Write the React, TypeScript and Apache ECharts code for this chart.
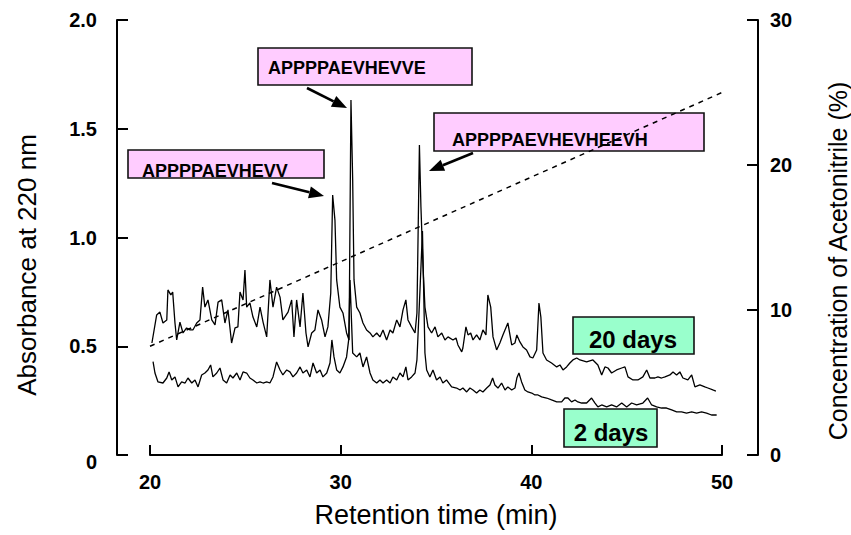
import React, { useEffect, useRef } from "react";
import * as echarts from "echarts";

const FONT = '"Liberation Sans", Arial, sans-serif';

// Retention time ticks (min)
const xTicks = [20, 30, 40, 50];

// 20 days chromatogram: retention time (min) and absorbance at 220 nm
const time20 = [
  20.1, 20.35, 20.52, 20.68, 20.88, 20.94, 21.09, 21.19, 21.31, 21.4, 21.57, 21.73, 21.92, 22.1, 22.25, 22.45,
  22.62, 22.76, 22.88, 23.04, 23.24, 23.41, 23.57, 23.76, 23.93, 24.09, 24.28, 24.46, 24.61, 24.72, 24.88, 24.98,
  25.07, 25.24, 25.4, 25.6, 25.77, 25.93, 26.12, 26.29, 26.45, 26.64, 26.82, 26.97, 27.24, 27.43, 27.55, 27.69,
  27.87, 28.02, 28.18, 28.29, 28.48, 28.65, 28.81, 29.0, 29.18, 29.33, 29.48, 29.58, 29.7, 29.79, 29.96, 30.12,
  30.31, 30.44, 30.54, 30.63, 30.7, 30.84, 31.01, 31.17, 31.36, 31.54, 31.69, 31.89, 32.06, 32.22, 32.41, 32.59,
  32.74, 32.94, 33.11, 33.27, 33.42, 33.53, 33.72, 33.9, 34.0, 34.13, 34.21, 34.32, 34.42, 34.58, 34.77, 34.95,
  35.1, 35.3, 35.47, 35.63, 35.89, 36.05, 36.15, 36.35, 36.41, 36.57, 36.68, 36.82, 36.94, 37.13, 37.3, 37.46,
  37.62, 37.72, 37.87, 37.99, 38.18, 38.35, 38.51, 38.77, 38.97, 39.14, 39.24, 39.4, 39.56, 39.75, 39.93, 40.08,
  40.28, 40.4, 40.5, 40.61, 40.8, 41.06, 41.33, 41.5, 41.66, 41.85, 42.02, 42.18, 42.38, 42.55, 42.9, 43.23,
  43.49, 43.69, 43.86, 44.02, 44.21, 44.47, 44.74, 44.91, 45.07, 45.33, 45.59, 45.85, 46.05, 46.22, 46.48, 46.64,
  46.83, 47.01, 47.27, 47.43, 47.62, 47.79, 47.95, 48.21, 48.41, 48.58, 48.84, 49.1, 49.26, 49.52, 49.68,
];
const abs20 = [
  0.515, 0.644, 0.657, 0.607, 0.621, 0.759, 0.736, 0.749, 0.607, 0.529, 0.611, 0.561, 0.584, 0.575, 0.575, 0.607,
  0.621, 0.772, 0.68, 0.713, 0.621, 0.598, 0.703, 0.713, 0.607, 0.667, 0.515, 0.584, 0.589, 0.749, 0.713, 0.85,
  0.68, 0.699, 0.634, 0.589, 0.68, 0.611, 0.543, 0.805, 0.68, 0.772, 0.726, 0.621, 0.657, 0.713, 0.543, 0.713,
  0.589, 0.745, 0.561, 0.497, 0.561, 0.575, 0.667, 0.621, 0.543, 0.589, 0.745, 1.195, 1.08, 0.805, 0.68, 0.653,
  0.561, 0.529, 1.632, 1.264, 0.805, 0.68, 0.653, 0.607, 0.575, 0.561, 0.543, 0.561, 0.543, 0.575, 0.529, 0.575,
  0.561, 0.621, 0.589, 0.667, 0.713, 0.621, 0.589, 0.561, 0.653, 1.425, 1.14, 0.864, 0.68, 0.589, 0.561, 0.589,
  0.543, 0.561, 0.529, 0.543, 0.529, 0.538, 0.506, 0.474, 0.492, 0.589, 0.552, 0.561, 0.529, 0.552, 0.529, 0.575,
  0.552, 0.736, 0.68, 0.543, 0.483, 0.515, 0.552, 0.607, 0.506, 0.515, 0.552, 0.52, 0.497, 0.483, 0.451, 0.446,
  0.483, 0.699, 0.634, 0.469, 0.437, 0.423, 0.405, 0.414, 0.391, 0.405, 0.423, 0.437, 0.446, 0.437, 0.428, 0.437,
  0.414, 0.368, 0.405, 0.4, 0.377, 0.391, 0.4, 0.405, 0.359, 0.345, 0.345, 0.359, 0.391, 0.354, 0.354, 0.359,
  0.354, 0.359, 0.368, 0.382, 0.368, 0.382, 0.354, 0.345, 0.368, 0.313, 0.322, 0.313, 0.308, 0.299, 0.294,
];

// 2 days chromatogram
const time2 = [
  20.16, 20.26, 20.42, 20.68, 20.88, 21.0, 21.14, 21.31, 21.47, 21.66, 21.84, 21.99, 22.19, 22.36, 22.52, 22.71,
  22.88, 23.04, 23.18, 23.3, 23.5, 23.67, 23.83, 24.02, 24.2, 24.35, 24.55, 24.72, 24.88, 25.07, 25.24, 25.4,
  25.6, 25.77, 25.93, 26.12, 26.29, 26.45, 26.64, 26.82, 26.97, 27.17, 27.34, 27.5, 27.69, 27.87, 28.02, 28.22,
  28.39, 28.55, 28.74, 28.92, 29.07, 29.27, 29.44, 29.54, 29.65, 29.79, 29.96, 30.12, 30.31, 30.42, 30.49, 30.63,
  30.84, 31.01, 31.17, 31.36, 31.54, 31.69, 31.89, 32.06, 32.22, 32.41, 32.59, 32.74, 32.94, 33.11, 33.27, 33.42,
  33.53, 33.72, 33.9, 34.0, 34.16, 34.29, 34.42, 34.51, 34.68, 34.84, 35.03, 35.21, 35.36, 35.55, 35.82, 36.08,
  36.26, 36.41, 36.61, 36.78, 36.94, 37.13, 37.3, 37.46, 37.66, 37.83, 37.97, 38.09, 38.25, 38.44, 38.62, 38.77,
  38.97, 39.14, 39.24, 39.35, 39.49, 39.66, 39.82, 40.02, 40.19, 40.35, 40.54, 40.8, 41.06, 41.33, 41.59, 41.76,
  41.92, 42.11, 42.29, 42.44, 42.64, 42.9, 43.16, 43.34, 43.49, 43.69, 43.95, 44.21, 44.47, 44.74, 45.0, 45.26,
  45.52, 45.85, 46.1, 46.31, 46.57, 46.83, 47.09, 47.36, 47.62, 47.88, 48.14, 48.41, 48.67, 48.93, 49.19, 49.45,
  49.72,
];
const abs2 = [
  0.429, 0.377, 0.336, 0.331, 0.354, 0.382, 0.345, 0.359, 0.313, 0.336, 0.331, 0.354, 0.331, 0.345, 0.313, 0.368,
  0.377, 0.391, 0.414, 0.359, 0.377, 0.4, 0.345, 0.331, 0.368, 0.354, 0.377, 0.345, 0.382, 0.377, 0.354, 0.345,
  0.331, 0.336, 0.331, 0.336, 0.331, 0.359, 0.428, 0.391, 0.368, 0.391, 0.382, 0.359, 0.377, 0.405, 0.377, 0.391,
  0.359, 0.423, 0.377, 0.391, 0.359, 0.377, 0.423, 0.529, 0.451, 0.391, 0.377, 0.405, 0.451, 0.529, 0.805, 0.469,
  0.451, 0.469, 0.405, 0.451, 0.377, 0.345, 0.331, 0.345, 0.331, 0.345, 0.331, 0.359, 0.345, 0.377, 0.359, 0.405,
  0.345, 0.359, 0.377, 0.437, 0.759, 1.03, 0.469, 0.391, 0.359, 0.391, 0.345, 0.359, 0.331, 0.345, 0.313, 0.308,
  0.299, 0.308, 0.29, 0.308, 0.299, 0.285, 0.299, 0.29, 0.308, 0.322, 0.354, 0.322, 0.308, 0.331, 0.299, 0.313,
  0.299, 0.308, 0.354, 0.377, 0.336, 0.299, 0.29, 0.285, 0.276, 0.276, 0.267, 0.262, 0.253, 0.244, 0.244, 0.262,
  0.262, 0.244, 0.253, 0.244, 0.239, 0.239, 0.262, 0.239, 0.221, 0.23, 0.221, 0.23, 0.221, 0.239, 0.221, 0.239,
  0.23, 0.239, 0.262, 0.23, 0.221, 0.216, 0.216, 0.207, 0.198, 0.198, 0.193, 0.198, 0.193, 0.198, 0.193, 0.184,
  0.184,
];

// Acetonitrile gradient (%)
const gradientTime = [20, 50];
const gradientAcn = [7.5, 25];

// Annotation texts
const peptideLabels = ["APPPPAEVHEVVE", "APPPPAEVHEVV", "APPPPAEVHEVHEEVH"];
const sampleLabels = ["20 days", "2 days"];

const PINK = "#ffccff";
const MINT = "#99ffcc";

function arrow(x1: number, y1: number, x2: number, y2: number) {
  const a = Math.atan2(y2 - y1, x2 - x1);
  const L = 15;
  const W = 6;
  const c = Math.cos(a);
  const s = Math.sin(a);
  const bx = x2 - L * c;
  const by = y2 - L * s;
  return [
    { type: "line", z: 10, shape: { x1, y1, x2: bx, y2: by }, style: { stroke: "#000", lineWidth: 2.6 } },
    {
      type: "polygon",
      z: 10,
      shape: { points: [[x2, y2], [bx - s * W, by + c * W], [bx + s * W, by - c * W]] },
      style: { fill: "#000" },
    },
  ];
}

function box(x: number, y: number, w: number, h: number, fill: string) {
  return {
    type: "rect",
    z: 1,
    shape: { x, y, width: w, height: h },
    style: { fill, stroke: "#111", lineWidth: 1.6 },
  };
}

function label(text: string, x: number, y: number, size: number, align: string) {
  return {
    type: "text",
    z: 1,
    x,
    y,
    style: {
      text,
      fill: "#000",
      font: `bold ${size}px ${FONT}`,
      align,
      verticalAlign: "middle",
    },
  };
}

export default function App() {
  const ref = useRef<HTMLDivElement>(null);
  useEffect(() => {
    const chart = echarts.init(ref.current!, null, { renderer: "svg" });
    const axisLine = { show: true, onZero: false, lineStyle: { color: "#000", width: 2 } };
    const tickStyle = { color: "#000", width: 2 };
    const tickLabel = { color: "#000", fontWeight: "bold", fontSize: 20, fontFamily: FONT };
    const option: any = {
      animation: false,
      backgroundColor: "#fff",
      grid: { left: 150, right: 129, top: 20, bottom: 80 },
      xAxis: {
        type: "value",
        min: 20,
        max: 50,
        interval: 10,
        axisLine,
        axisTick: { show: true, inside: true, length: 10, lineStyle: tickStyle },
        axisLabel: { ...tickLabel, margin: 17, customValues: xTicks },
        splitLine: { show: false },
        name: "Retention time (min)",
        nameLocation: "middle",
        nameGap: 46,
        nameTextStyle: { fontSize: 27, color: "#000", fontFamily: FONT },
      },
      yAxis: [
        {
          type: "value",
          min: 0,
          max: 2,
          interval: 0.5,
          position: "left",
          offset: 33,
          axisLine,
          axisTick: { show: true, inside: true, length: 11, lineStyle: tickStyle },
          axisLabel: {
            ...tickLabel,
            margin: 20,
            formatter: (v: number) => (v === 0 ? "{z|0}" : v.toFixed(1)),
            rich: { z: { ...tickLabel, padding: [14, 0, 0, 0] } },
          },
          splitLine: { show: false },
        },
        {
          type: "value",
          min: 0,
          max: 30,
          interval: 10,
          position: "right",
          offset: 36,
          axisLine,
          axisTick: { show: true, inside: true, length: 11, lineStyle: tickStyle },
          axisLabel: { ...tickLabel, margin: 12 },
          splitLine: { show: false },
        },
      ],
      series: [
        {
          name: "20 days",
          type: "line",
          data: time20.map((t, i) => [t, abs20[i]]),
          showSymbol: false,
          symbol: "none",
          lineStyle: { color: "#000", width: 1.3 },
          z: 3,
        },
        {
          name: "2 days",
          type: "line",
          data: time2.map((t, i) => [t, abs2[i]]),
          showSymbol: false,
          symbol: "none",
          lineStyle: { color: "#000", width: 1.3 },
          z: 3,
        },
        {
          name: "Acetonitrile",
          type: "line",
          yAxisIndex: 1,
          data: gradientTime.map((t, i) => [t, gradientAcn[i]]),
          showSymbol: false,
          symbol: "none",
          lineStyle: { color: "#000", width: 1.5, type: [5, 5] },
          z: 4,
        },
      ],
      graphic: {
        elements: [
          box(258, 48, 214, 37, PINK),
          label(peptideLabels[0], 268, 68, 18, "left"),
          ...arrow(307, 88, 347, 108),
          box(128, 150, 196, 28, PINK),
          label(peptideLabels[1], 142, 171, 18, "left"),
          ...arrow(272, 183, 324, 196),
          box(434, 113, 270, 38, PINK),
          label(peptideLabels[2], 452, 140, 18, "left"),
          ...arrow(473, 153, 429, 171),
          box(573, 317, 121, 37, MINT),
          label(sampleLabels[0], 633, 339, 24, "center"),
          box(564, 409, 93, 38, MINT),
          label(sampleLabels[1], 611, 432, 24, "center"),
          {
            type: "text",
            x: 27,
            y: 265,
            rotation: Math.PI / 2,
            style: {
              text: "Absorbance at 220 nm",
              fill: "#000",
              font: `26px ${FONT}`,
              align: "center",
              verticalAlign: "middle",
            },
          },
          {
            type: "text",
            x: 838,
            y: 261,
            rotation: Math.PI / 2,
            style: {
              text: "Concentration of Acetonitrile (%)",
              fill: "#000",
              font: `25px ${FONT}`,
              align: "center",
              verticalAlign: "middle",
            },
          },
        ],
      },
    };
    chart.setOption(option);
    return () => chart.dispose();
  }, []);
  return (
    <div
      ref={ref}
      style={{ position: "fixed", left: 0, top: 0, width: 851, height: 535 }}
    />
  );
}
